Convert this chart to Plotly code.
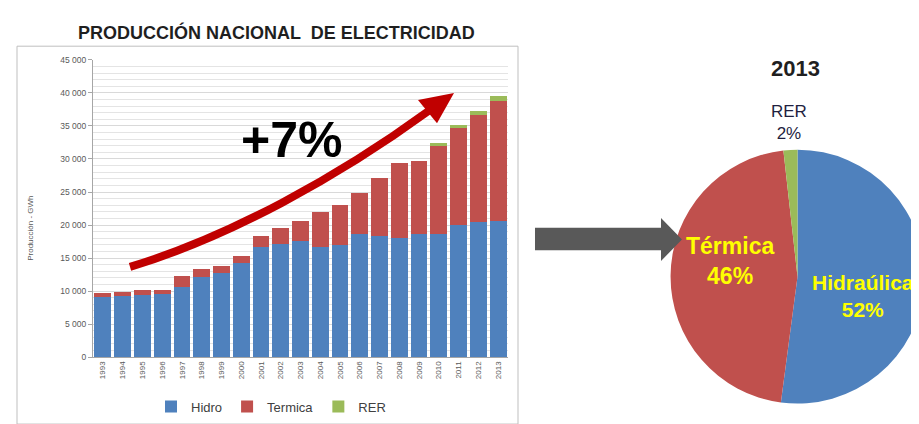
import plotly.graph_objects as go

# Producción nacional de electricidad (GWh)
years = [str(y) for y in range(1993, 2014)]
hidro = [9080, 9330, 9420, 9630, 10600, 12190, 12780, 14250, 16720, 17100, 17600,
         16620, 17000, 18580, 18390, 17990, 18580, 18690, 20060, 20500, 20560]
termica = [640, 600, 740, 530, 1690, 1180, 1080, 1140, 1670, 2470, 2960,
           5320, 6000, 6270, 8670, 11430, 11080, 13290, 14680, 16200, 18210]
rer = [0, 0, 0, 0, 0, 0, 0, 0, 0, 0, 0,
       0, 0, 0, 0, 0, 0, 400, 350, 550, 700]

series_names = ["Hidro", "Termica", "RER"]
pie_labels = ["Hidraúlica", "Térmica", "RER"]
pie_values = [hidro[-1], termica[-1], rer[-1]]
growth_text = "+7%"

BLUE = "#4F81BD"
RED = "#C0504D"
GREEN = "#9BBB59"
FONT = "Liberation Sans, Arial, sans-serif"

W, H = 919, 424


def px(x):
    return x / W


def py(y):
    return 1 - y / H


fig = go.Figure()

################
# Stacked bars
for name, vals, col in zip(series_names, [hidro, termica, rer], [BLUE, RED, GREEN]):
    fig.add_trace(go.Bar(
        x=years, y=vals, name=name,
        marker=dict(color=col, line=dict(width=0)),
        xaxis="x", yaxis="y",
    ))

################
# Pie for 2013
fig.add_trace(go.Pie(
    labels=pie_labels, values=pie_values,
    marker=dict(colors=[BLUE, RED, GREEN], line=dict(width=0)),
    sort=False, direction="clockwise", rotation=0,
    textinfo="none", showlegend=False,
    domain=dict(x=[px(660), 1.0], y=[py(400), py(140)]),
))

total = sum(pie_values)
pct = [round(v / total * 100) for v in pie_values]

annotations = [
    dict(text="<b>PRODUCCIÓN NACIONAL  DE ELECTRICIDAD</b>", x=px(268), y=py(20),
         font=dict(size=18, color="#1F1F1F", family=FONT)),
    dict(text="Producción - GWh", x=px(23), y=py(221), textangle=-90,
         font=dict(size=8, color="#595959", family=FONT)),
    dict(text="<b>%s</b>" % growth_text, x=px(283), y=py(130),
         font=dict(size=50, color="#000000", family=FONT)),
    dict(text="<b>2013</b>", x=px(787), y=py(57),
         font=dict(size=22, color="#1F1F1F", family=FONT)),
    dict(text="%s<br>%d%%" % (pie_labels[2], pct[2]), x=px(781), y=py(112),
         font=dict(size=17, color="#1F1F3F", family=FONT)),
    dict(text="<b>%s<br>%d%%</b>" % (pie_labels[1], pct[1]), x=px(722), y=py(254),
         font=dict(size=23, color="#FFFF00", family=FONT)),
    dict(text="<b>%s<br>%d%%</b>" % (pie_labels[0], pct[0]), x=px(855), y=py(290),
         font=dict(size=21, color="#FFFF00", family=FONT)),
]
for a in annotations:
    a.update(xref="paper", yref="paper", showarrow=False, xanchor="center", yanchor="middle")

################
# Decorations: frame, red growth arrow, grey arrow
shapes = [
    dict(type="rect", xref="paper", yref="paper",
         x0=px(9), y0=py(421), x1=px(510), y1=py(34),
         line=dict(color="#BFBFBF", width=1), layer="below"),
    dict(type="path", xref="paper", yref="paper",
         path="M %f,%f C %f,%f %f,%f %f,%f" % (px(122), py(260), px(220), py(230),
                                               px(330), py(168), px(421), py(100)),
         line=dict(color="#C00000", width=8)),
    dict(type="path", xref="paper", yref="paper",
         path="M %f,%f L %f,%f L %f,%f Z" % (px(446), py(82), px(410), py(89), px(429), py(113)),
         fillcolor="#C00000", line=dict(width=0)),
    dict(type="path", xref="paper", yref="paper",
         path="M %f,%f L %f,%f L %f,%f L %f,%f L %f,%f L %f,%f L %f,%f Z" % (
             px(527), py(220), px(653), py(220), px(653), py(210), px(674), py(232),
             px(653), py(254), px(653), py(243), px(527), py(243)),
         fillcolor="#595959", line=dict(width=0)),
]

fig.update_layout(
    width=W, height=H,
    margin=dict(l=0, r=0, t=0, b=0),
    paper_bgcolor="white", plot_bgcolor="white",
    barmode="stack", bargap=0.15,
    separators=", ",
    font=dict(family=FONT, color="#595959"),
    xaxis=dict(
        domain=[px(85), px(500)],
        tickangle=-90, tickfont=dict(size=8, color="#595959"),
        showline=True, linecolor="#A6A6A6", linewidth=1,
        ticks="", showgrid=False, anchor="y",
    ),
    yaxis=dict(
        domain=[py(352.5), py(48)], range=[0, 45000],
        tickvals=list(range(0, 45001, 5000)), tickformat=",d",
        tickfont=dict(size=8.5, color="#595959"),
        showline=True, linecolor="#A6A6A6", linewidth=1,
        ticks="outside", ticklen=4, tickcolor="#A6A6A6",
        showgrid=True, gridcolor="#D9D9D9", gridwidth=1,
        minor=dict(dtick=1000, showgrid=True, gridcolor="#E4E4E4", gridwidth=1),
        zeroline=False, anchor="x",
    ),
    legend=dict(
        orientation="h", traceorder="normal",
        x=px(263), xanchor="center", y=py(403), yanchor="middle",
        font=dict(size=13, color="#404040", family=FONT),
        bgcolor="rgba(0,0,0,0)", itemwidth=30,
    ),
    annotations=annotations,
    shapes=shapes,
)

fig.write_html("out.html")
